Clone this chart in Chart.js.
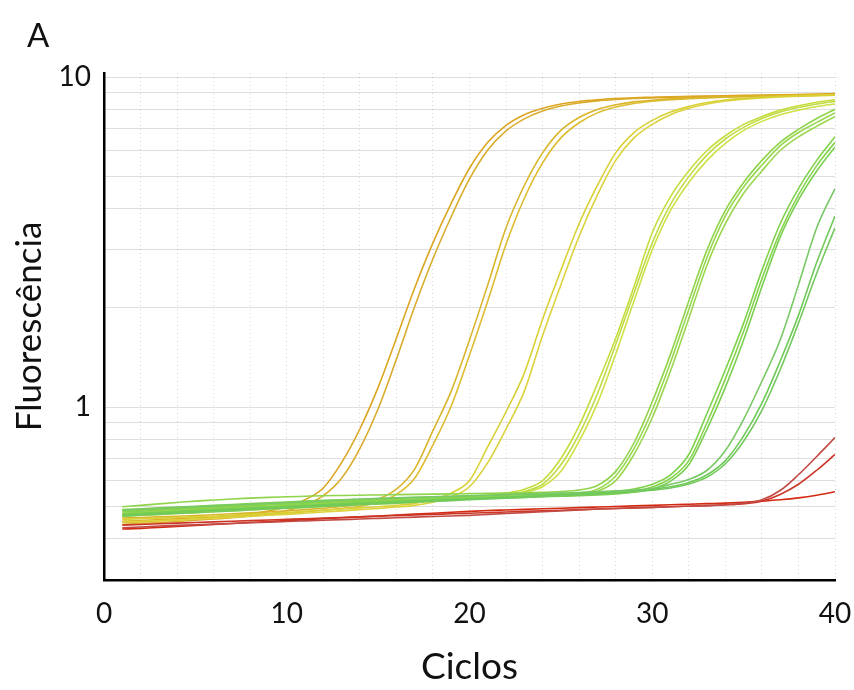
<!DOCTYPE html>
<html>
<head>
<meta charset="utf-8">
<script src="https://cdn.jsdelivr.net/npm/chart.js@4.4.0/dist/chart.umd.min.js"></script>
<style>
    html, body { margin: 0; padding: 0; background: #fff; }
    #wrap { position: relative; width: 854px; height: 690px; }
    #panel { position: absolute; left: 27px; top: 14px; font: 33px Lato, sans-serif; color: #111; }
</style>
</head>
<body>
<div id="wrap">
    <canvas id="chart" width="854" height="690"></canvas>
    <div id="panel">A</div>
</div>
<script>
// ciclos de amplificação
const cycles = [1,2,3,4,5,6,7,8,9,10,11,12,13,14,15,16,17,18,19,20,21,22,23,24,25,26,27,28,29,30,31,32,33,34,35,36,37,38,39,40];

// linhas de grade do eixo log e rótulos visíveis
const gridValues = [0.4,0.5,0.6,0.7,0.8,0.9,1,2,3,4,5,6,7,8,9,10];
const yLabels = [1, 10];

// diluição 1
const g1a = [0.452,0.454,0.457,0.46,0.463,0.466,0.47,0.476,0.485,0.5,0.525,0.57,0.68,0.86,1.15,1.62,2.3,3.15,4.15,5.3,6.35,7.15,7.7,8.05,8.3,8.45,8.55,8.62,8.67,8.7,8.73,8.75,8.77,8.79,8.81,8.83,8.85,8.87,8.89,8.92];
const g1b = [0.442,0.445,0.448,0.451,0.455,0.459,0.463,0.468,0.475,0.487,0.505,0.54,0.61,0.75,0.99,1.4,2.02,2.82,3.78,4.92,6.02,6.88,7.48,7.9,8.18,8.36,8.48,8.56,8.62,8.66,8.69,8.72,8.74,8.76,8.78,8.8,8.81,8.83,8.85,8.87];
// diluição 2
const g2a = [0.462,0.464,0.466,0.468,0.47,0.473,0.476,0.479,0.482,0.486,0.49,0.495,0.501,0.51,0.527,0.565,0.65,0.85,1.12,1.6,2.35,3.5,4.7,5.9,6.9,7.55,7.98,8.25,8.42,8.52,8.6,8.65,8.69,8.72,8.75,8.77,8.79,8.81,8.83,8.85];
const g2b = [0.448,0.45,0.453,0.456,0.459,0.462,0.466,0.47,0.474,0.478,0.483,0.488,0.494,0.502,0.516,0.545,0.61,0.77,1.01,1.44,2.1,3.12,4.3,5.5,6.55,7.28,7.8,8.12,8.33,8.46,8.55,8.61,8.66,8.7,8.73,8.75,8.77,8.79,8.81,8.83];
// diluição 3
const g3a = [0.458,0.46,0.462,0.464,0.466,0.468,0.471,0.474,0.477,0.48,0.484,0.488,0.492,0.496,0.5,0.505,0.512,0.526,0.55,0.6,0.76,0.97,1.27,1.85,2.6,3.6,4.7,5.9,6.8,7.4,7.85,8.15,8.38,8.53,8.63,8.7,8.75,8.79,8.82,8.85];
const g3b = [0.45,0.452,0.454,0.456,0.459,0.462,0.465,0.468,0.471,0.474,0.478,0.482,0.486,0.49,0.494,0.499,0.505,0.516,0.536,0.575,0.68,0.86,1.12,1.65,2.35,3.3,4.4,5.6,6.55,7.2,7.7,8.05,8.3,8.47,8.58,8.66,8.72,8.76,8.79,8.82];
// diluição 4
const g4a = [0.475,0.478,0.481,0.484,0.487,0.49,0.493,0.496,0.499,0.502,0.505,0.508,0.511,0.514,0.517,0.52,0.523,0.527,0.531,0.536,0.542,0.55,0.565,0.6,0.7,0.88,1.18,1.62,2.32,3.38,4.35,5.2,6.0,6.65,7.2,7.6,7.95,8.2,8.4,8.55];
const g4b = [0.468,0.471,0.474,0.477,0.48,0.483,0.486,0.489,0.492,0.495,0.498,0.501,0.504,0.507,0.51,0.513,0.516,0.52,0.524,0.529,0.535,0.543,0.556,0.585,0.67,0.83,1.1,1.55,2.22,3.15,4.12,5.0,5.82,6.5,7.05,7.5,7.85,8.1,8.3,8.45];
const g4c = [0.47,0.473,0.476,0.479,0.482,0.485,0.488,0.491,0.494,0.497,0.5,0.503,0.506,0.509,0.512,0.515,0.518,0.521,0.525,0.53,0.535,0.542,0.552,0.575,0.64,0.79,1.03,1.45,2.1,3.0,3.95,4.8,5.6,6.3,6.9,7.35,7.7,7.95,8.15,8.3];
// diluição 5
const g5a = [0.5,0.505,0.51,0.515,0.52,0.524,0.528,0.531,0.534,0.536,0.538,0.54,0.541,0.542,0.543,0.544,0.545,0.546,0.547,0.548,0.549,0.55,0.551,0.553,0.556,0.562,0.58,0.64,0.78,1.04,1.45,2.1,3.0,3.95,4.8,5.6,6.35,6.95,7.5,8.0];
const g5b = [0.485,0.488,0.491,0.494,0.497,0.5,0.503,0.506,0.509,0.512,0.515,0.518,0.52,0.522,0.524,0.526,0.528,0.53,0.532,0.534,0.536,0.538,0.54,0.542,0.545,0.55,0.565,0.62,0.75,0.98,1.37,1.98,2.85,3.8,4.65,5.42,6.2,6.8,7.3,7.8];
const g5c = [0.478,0.481,0.484,0.487,0.49,0.493,0.496,0.499,0.502,0.505,0.508,0.511,0.514,0.517,0.52,0.522,0.524,0.526,0.528,0.53,0.532,0.534,0.536,0.538,0.541,0.546,0.557,0.6,0.72,0.93,1.29,1.86,2.7,3.6,4.45,5.2,6.0,6.6,7.1,7.6];
// diluição 6
const g6a = [0.49,0.493,0.496,0.499,0.502,0.505,0.508,0.511,0.514,0.517,0.52,0.523,0.525,0.527,0.529,0.531,0.533,0.535,0.537,0.539,0.541,0.543,0.545,0.547,0.549,0.551,0.554,0.558,0.566,0.585,0.625,0.72,0.96,1.3,1.8,2.6,3.6,4.6,5.6,6.6];
const g6b = [0.482,0.485,0.488,0.491,0.494,0.497,0.5,0.503,0.506,0.509,0.512,0.515,0.518,0.52,0.522,0.524,0.526,0.528,0.53,0.532,0.534,0.536,0.538,0.54,0.542,0.544,0.547,0.551,0.558,0.574,0.61,0.69,0.9,1.22,1.7,2.45,3.4,4.4,5.4,6.35];
const g6c = [0.475,0.478,0.481,0.484,0.487,0.49,0.493,0.496,0.499,0.502,0.505,0.508,0.511,0.514,0.517,0.52,0.522,0.524,0.526,0.528,0.53,0.532,0.534,0.536,0.538,0.54,0.543,0.547,0.553,0.566,0.598,0.67,0.86,1.15,1.6,2.32,3.28,4.25,5.2,6.15];
// diluição 7
const g7a = [0.488,0.491,0.494,0.497,0.5,0.503,0.506,0.509,0.512,0.515,0.518,0.521,0.524,0.527,0.53,0.532,0.534,0.536,0.538,0.54,0.542,0.544,0.546,0.548,0.55,0.552,0.555,0.558,0.562,0.568,0.585,0.605,0.645,0.74,0.92,1.2,1.6,2.35,3.5,4.6];
const g7b = [0.472,0.475,0.478,0.481,0.484,0.487,0.49,0.493,0.496,0.499,0.502,0.505,0.508,0.511,0.514,0.517,0.52,0.523,0.526,0.529,0.532,0.535,0.538,0.541,0.544,0.547,0.55,0.554,0.558,0.565,0.575,0.592,0.625,0.69,0.82,1.03,1.38,1.9,2.75,3.8];
const g7c = [0.468,0.471,0.474,0.477,0.48,0.483,0.486,0.489,0.492,0.495,0.498,0.501,0.504,0.507,0.51,0.513,0.516,0.519,0.522,0.525,0.528,0.531,0.534,0.537,0.54,0.543,0.546,0.55,0.555,0.561,0.57,0.586,0.615,0.675,0.79,0.98,1.3,1.8,2.55,3.5];
// controles negativos
const redA = [0.432,0.434,0.437,0.439,0.441,0.443,0.445,0.447,0.449,0.451,0.453,0.455,0.457,0.459,0.461,0.463,0.465,0.467,0.469,0.471,0.474,0.477,0.48,0.483,0.486,0.489,0.492,0.494,0.496,0.498,0.5,0.502,0.504,0.507,0.512,0.525,0.56,0.625,0.71,0.81];
const redB = [0.44,0.442,0.444,0.446,0.448,0.45,0.452,0.454,0.456,0.458,0.46,0.462,0.464,0.466,0.468,0.47,0.472,0.474,0.476,0.478,0.48,0.482,0.484,0.486,0.488,0.49,0.492,0.494,0.496,0.498,0.5,0.502,0.504,0.507,0.511,0.52,0.545,0.585,0.645,0.72];
const redC = [0.428,0.43,0.433,0.436,0.439,0.442,0.445,0.448,0.451,0.454,0.457,0.46,0.463,0.466,0.469,0.472,0.475,0.478,0.481,0.484,0.487,0.489,0.491,0.493,0.495,0.497,0.499,0.501,0.503,0.505,0.507,0.509,0.511,0.513,0.516,0.52,0.525,0.532,0.542,0.555];

// ordem: o primeiro fica por cima
const curves = [
    [redA, '#c24a44'], [redB, '#cc3526'], [redC, '#d42a12'],
    [g7a, '#78c865'], [g7b, '#6fcb58'], [g7c, '#74c95e'],
    [g6a, '#7fd24c'], [g6b, '#86d44e'], [g6c, '#7acf50'],
    [g5a, '#8fd44a'], [g5b, '#97d84c'], [g5c, '#9ad64e'],
    [g4a, '#c6dc3e'], [g4b, '#bfdc44'], [g4c, '#cfe046'],
    [g3a, '#d8d034'], [g3b, '#dcd23c'],
    [g2a, '#d9b52c'], [g2b, '#ddbc30'],
    [g1a, '#dca522'], [g1b, '#d9ac2e']
];

const FONT = 'Lato, "Open Sans", sans-serif';

document.addEventListener('DOMContentLoaded', function() {
    const ctx = document.querySelector('#chart').getContext('2d');
    new Chart(ctx, {
        type: 'line',
        data: {
            datasets: curves.map(([vals, color]) => ({
                data: vals.map((v, i) => ({ x: cycles[i], y: v })),
                borderColor: color,
                borderWidth: 1.6,
                pointRadius: 0,
                cubicInterpolationMode: 'monotone',
                fill: false
            }))
        },
        options: {
            responsive: false,
            animation: false,
            layout: { padding: { top: 73, right: 19, left: 0, bottom: 0 } },
            plugins: { legend: { display: false }, tooltip: { enabled: false } },
            scales: {
                x: {
                    type: 'linear',
                    min: 0,
                    max: 40,
                    afterFit: s => {
                        s.height = 110;
                        // o rótulo "40" pode passar da área do gráfico
                        s.paddingLeft = 0;
                        s.paddingRight = 0;
                    },
                    ticks: {
                        stepSize: 2,
                        autoSkip: false,
                        maxRotation: 0,
                        padding: 17,
                        color: '#111',
                        font: { family: FONT, size: 28 },
                        callback: v => (v % 10 === 0 ? String(v) : '')
                    },
                    grid: { drawTicks: false, color: 'rgba(0,0,0,0.16)', lineWidth: 1 },
                    border: { display: true, color: '#000', width: 2.5, dash: [1, 3] },
                    title: {
                        display: true,
                        text: 'Ciclos',
                        color: '#111',
                        font: { family: FONT, size: 37 },
                        padding: { top: 0, bottom: 1 }
                    }
                },
                y: {
                    type: 'logarithmic',
                    min: 0.31,
                    max: 10.3,
                    afterFit: s => { s.width = 104; },
                    afterBuildTicks: s => { s.ticks = gridValues.map(v => ({ value: v })); },
                    ticks: {
                        autoSkip: false,
                        padding: 13,
                        color: '#111',
                        font: { family: FONT, size: 28 },
                        callback: v => (yLabels.includes(v) ? String(v) : '')
                    },
                    grid: { drawTicks: false, color: 'rgba(0,0,0,0.26)', lineWidth: 1 },
                    border: { display: true, color: '#000', width: 2.5, dash: [1, 1] },
                    title: {
                        display: true,
                        text: 'Fluorescência',
                        color: '#111',
                        font: { family: FONT, size: 35 },
                        padding: { top: 9, bottom: 0 }
                    }
                }
            }
        }
    });
});
</script>
</body>
</html>
